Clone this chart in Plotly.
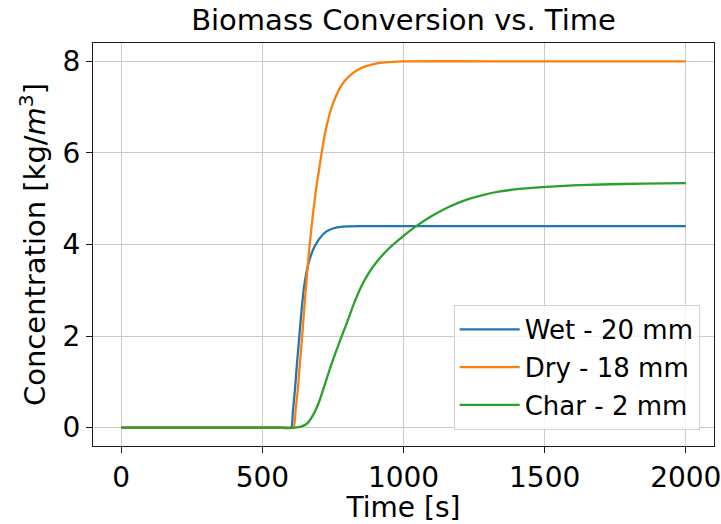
import plotly.graph_objects as go

# ---- data ----
wet_t = [0, 300, 560, 602, 608, 615, 622, 631, 638, 646, 655, 664, 673, 682, 692, 705, 726, 750, 785, 850, 1200, 2000]
wet_c = [0, 0, 0, 0, 0.35, 0.8, 1.35, 2.0, 2.5, 3.0, 3.35, 3.6, 3.78, 3.92, 4.03, 4.15, 4.28, 4.35, 4.39, 4.40, 4.40, 4.40]

dry_t = [0, 300, 570, 610, 618, 625, 633, 641, 649, 657, 665, 672, 680, 690, 700, 710, 720, 730, 744, 758,
         775, 793, 812, 834, 860, 887, 917, 960, 1000, 1300, 2000]
dry_c = [0, 0, 0, 0, 0.4, 0.8, 1.4, 2.0, 2.65, 3.26, 3.82, 4.25, 4.7, 5.2, 5.6, 6.0, 6.36, 6.65, 6.97, 7.2,
         7.42, 7.58, 7.7, 7.8, 7.88, 7.93, 7.965, 7.99, 8.0, 8.0, 8.0]

char_t = [0, 300, 580, 615, 640, 660, 680, 700, 720, 740, 760, 780, 800, 825, 850, 875, 900, 930, 960, 1000,
          1040, 1100, 1160, 1224, 1280, 1342, 1420, 1507, 1600, 1700, 1850, 2000]
char_c = [0, 0, 0, 0, 0.03, 0.1, 0.28, 0.55, 0.92, 1.3, 1.65, 1.98, 2.3, 2.72, 3.08, 3.36, 3.58, 3.8, 3.98, 4.19,
          4.38, 4.62, 4.82, 4.98, 5.08, 5.16, 5.22, 5.26, 5.29, 5.31, 5.33, 5.34]

series_names = ["Wet - 20 mm", "Dry - 18 mm", "Char - 2 mm"]
series_colors = ["#1f77b4", "#ff7f0e", "#2ca02c"]

x_ticks = [0, 500, 1000, 1500, 2000]
y_ticks = [0, 2, 4, 6, 8]

FONT = "DejaVu Sans"

fig = go.Figure()
for i, (t, c) in enumerate([(wet_t, wet_c), (dry_t, dry_c), (char_t, char_c)]):
    fig.add_trace(go.Scatter(
        x=t, y=c, mode="lines", name=series_names[i],
        line=dict(color=series_colors[i], width=2.3, shape="spline", smoothing=0.5),
        legendgroup=f"g{i}",
    ))

axis_common = dict(
    showline=True, mirror=True, linecolor="#1a1a1a", linewidth=1,
    ticks="outside", ticklen=6, tickcolor="#1a1a1a", tickwidth=1,
    showgrid=True, gridcolor="#cbcbcb", gridwidth=1,
    zeroline=False, automargin=False,
    ticklabeloverflow="allow",
    tickfont=dict(family=FONT, size=28, color="#000000"),
)

fig.update_layout(
    width=721, height=524,
    margin=dict(l=93, r=7, t=43, b=78, autoexpand=False),
    paper_bgcolor="white", plot_bgcolor="white",
    font=dict(family=FONT, color="#000000"),
    title=dict(text="Biomass Conversion vs. Time", x=0.5, xref="paper", xanchor="center",
               y=0.962, yref="container", yanchor="middle",
               font=dict(family=FONT, size=29, color="#000000")),
    xaxis=dict(range=[-100, 2100], tickvals=x_ticks, ticktext=[str(v) for v in x_ticks],
               title=dict(text="Time [s]", font=dict(family=FONT, size=28), standoff=4),
               **axis_common),
    yaxis=dict(range=[-0.4, 8.4], tickvals=y_ticks, ticktext=[str(v) for v in y_ticks],
               title=dict(text="Concentration [kg/<i>m</i><sup>3</sup>]", font=dict(family=FONT, size=29), standoff=8),
               **axis_common),
    legend=dict(x=0.977, y=0.04, xanchor="right", yanchor="bottom",
                bgcolor="rgba(255,255,255,0.8)", bordercolor="#d0d0d0", borderwidth=1,
                font=dict(family=FONT, size=26, color="#000000"),
                traceorder="grouped", tracegroupgap=1, itemwidth=60),
    showlegend=True,
)

fig.write_html("out.html")
